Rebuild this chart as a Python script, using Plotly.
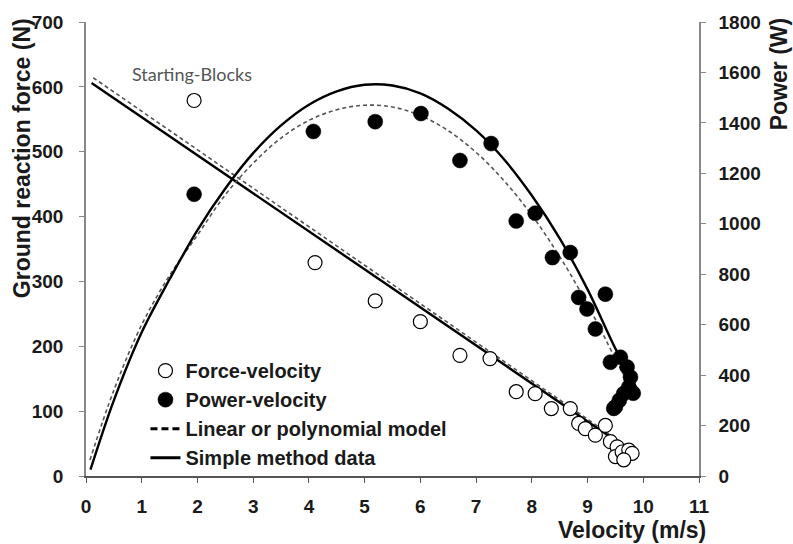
import plotly.graph_objects as go

# Measured sprint data: force-velocity (open) and power-velocity (filled)
fv_velocity = [1.94, 4.11, 5.19, 6.00, 6.71, 7.25, 7.72, 8.06, 8.35, 8.69, 8.84, 8.96,
               9.14, 9.32, 9.41, 9.53, 9.50, 9.62, 9.74, 9.80, 9.65]
fv_force = [579, 329, 270, 238, 186, 181, 130, 127, 104, 104, 81, 73,
            63, 78, 53, 45, 30, 37, 40, 35, 25]

pv_velocity = [1.94, 4.08, 5.19, 6.01, 6.71, 7.27, 7.72, 8.06, 8.37, 8.69, 8.84, 8.99,
               9.32, 9.14, 9.41, 9.59, 9.71, 9.77, 9.74, 9.65, 9.50, 9.82, 9.47, 9.57]
pv_power = [1117, 1366, 1405, 1437, 1251, 1318, 1011, 1042, 866, 886, 708, 662,
            721, 583, 451, 471, 432, 392, 353, 327, 274, 328, 268, 300]

# Force-velocity lines
simple_force_v = [0.10, 9.87]
simple_force_f = [606, 33]
model_force_v = [0.13, 9.87]
model_force_f = [614, 36]

# Power-velocity curves
simple_power_v = [0.08, 0.5, 1.0, 1.5, 2.0, 2.5, 3.0, 3.5, 4.0, 4.5, 5.0, 5.5,
                  6.0, 6.5, 7.0, 7.5, 8.0, 8.5, 9.0, 9.5, 9.9]
simple_power_p = [25, 300, 570, 780, 975, 1140, 1280, 1390, 1472, 1525, 1551, 1548,
                  1517, 1456, 1370, 1256, 1112, 942, 740, 505, 340]
model_power_v = [0.07, 0.5, 1.0, 1.5, 2.0, 2.5, 3.0, 3.5, 4.0, 4.5, 5.0, 5.5,
                 6.0, 6.5, 7.0, 7.5, 8.0, 8.5, 9.0, 9.5, 9.82]
model_power_p = [63, 340, 600, 795, 955, 1115, 1240, 1340, 1410, 1452, 1470, 1463,
                 1429, 1369, 1283, 1171, 1034, 870, 680, 465, 330]

x_ticks = list(range(0, 12))
force_ticks = list(range(0, 701, 100))
power_ticks = list(range(0, 1801, 200))

FONT = "Liberation Sans"
INK = "#1a1a1a"
DASH_GREY = "#555555"

fig = go.Figure()

# model curves (thin grey dashes)
fig.add_trace(go.Scatter(x=model_force_v, y=model_force_f, mode="lines",
                         line=dict(color=DASH_GREY, width=1.6, dash="4px,3px"),
                         showlegend=False, yaxis="y"))
fig.add_trace(go.Scatter(x=model_power_v, y=model_power_p, mode="lines",
                         line=dict(color=DASH_GREY, width=1.6, dash="4px,3px",
                                   shape="spline", smoothing=1.0),
                         showlegend=False, yaxis="y2"))
# simple method curves (solid black)
fig.add_trace(go.Scatter(x=simple_force_v, y=simple_force_f, mode="lines",
                         line=dict(color="black", width=2.4),
                         showlegend=False, yaxis="y"))
fig.add_trace(go.Scatter(x=simple_power_v, y=simple_power_p, mode="lines",
                         line=dict(color="black", width=2.4, shape="spline", smoothing=1.0),
                         showlegend=False, yaxis="y2"))

# measured points
fig.add_trace(go.Scatter(x=fv_velocity, y=fv_force, mode="markers", name="Force-velocity",
                         marker=dict(symbol="circle", size=14, color="white",
                                     line=dict(color="black", width=1.2)),
                         legendgroup="a", yaxis="y"))
fig.add_trace(go.Scatter(x=pv_velocity, y=pv_power, mode="markers", name="Power-velocity",
                         marker=dict(symbol="circle", size=15, color="black",
                                     line=dict(color="black", width=0.5)),
                         legendgroup="b", yaxis="y2"))

# legend entries for the two line styles
fig.add_trace(go.Scatter(x=[None], y=[None], mode="lines", name="Linear or polynomial model",
                         line=dict(color="black", width=3, dash="7px,4px"),
                         legendgroup="c", yaxis="y"))
fig.add_trace(go.Scatter(x=[None], y=[None], mode="lines", name="Simple method data",
                         line=dict(color="black", width=3),
                         legendgroup="d", yaxis="y"))

axis_font = dict(family=FONT, size=19, color=INK, weight="bold")
title_font = dict(family=FONT, size=23, color=INK, weight="bold")

fig.update_layout(
    width=793, height=544,
    margin=dict(l=86, r=94, t=20, b=68),
    paper_bgcolor="white", plot_bgcolor="white",
    font=dict(family=FONT, color=INK),
    xaxis=dict(range=[0, 11], tickvals=x_ticks, showgrid=False, zeroline=False,
               showline=True, linecolor="#555555", linewidth=1.5,
               ticks="outside", ticklen=5, tickcolor="#555555",
               tickfont=axis_font, ticklabelstandoff=7),
    yaxis=dict(range=[0, 700], tickvals=force_ticks, showgrid=False, zeroline=False,
               showline=True, linecolor="#888888", linewidth=1.5,
               ticks="outside", ticklen=5, tickcolor="#888888",
               tickfont=axis_font, ticklabelstandoff=12),
    yaxis2=dict(range=[0, 1800], tickvals=power_ticks, overlaying="y", side="right",
                showgrid=False, zeroline=False,
                showline=True, linecolor="#888888", linewidth=1.5,
                ticks="outside", ticklen=5, tickcolor="#888888",
                tickfont=axis_font, ticklabelstandoff=9),
    legend=dict(x=0.097, y=0.275, xanchor="left", yanchor="top",
                font=dict(family=FONT, size=20, color=INK, weight="bold"),
                bgcolor="rgba(0,0,0,0)", tracegroupgap=0, itemwidth=30),
    showlegend=True,
)

annotations = [
    dict(text="Ground reaction force (N)", textangle=-90, xref="paper", yref="paper",
         x=-0.105, y=1.012, xanchor="center", yanchor="top", showarrow=False,
         font=title_font),
    dict(text="Power (W)", textangle=-90, xref="paper", yref="paper",
         x=1.13, y=1.012, xanchor="center", yanchor="top", showarrow=False,
         font=title_font),
    dict(text="Velocity (m/s)", xref="paper", yref="paper",
         x=1.015, y=-0.087, xanchor="right", yanchor="top", showarrow=False,
         font=title_font),
    dict(text="Starting-Blocks", xref="x", yref="y", x=1.9, y=620,
         showarrow=False, font=dict(family="Lato", size=18, color="#555555")),
]
fig.update_layout(annotations=annotations)

fig.write_html("out.html")
